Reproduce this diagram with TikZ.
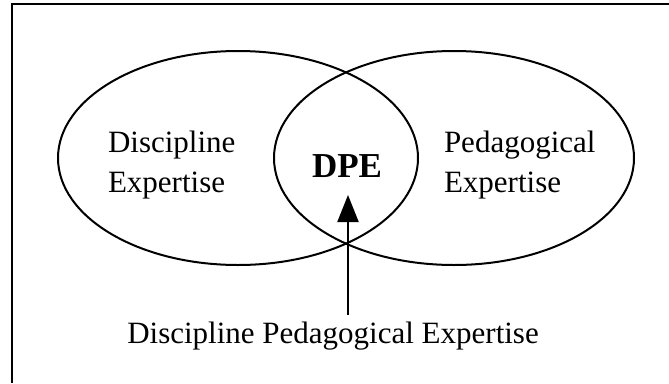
\documentclass[tikz,border=0pt]{standalone}
\usepackage{fontspec}
\setmainfont{Liberation Serif}
\usetikzlibrary{shapes.geometric,arrows.meta,positioning}

\begin{document}
\begin{tikzpicture}[x=1pt, y=-1pt, line width=2pt,
    venn/.style={ellipse, draw, minimum width=360pt, minimum height=214pt},
    label/.style={align=left, font=\fontsize{31}{40}\selectfont, inner sep=0pt}]
        \useasboundingbox (0,0) rectangle (669,383);

        % Frame
        \draw (12,383) -- (12,3.5) -- (669,3.5);

        % Ellipses
        \node[venn] (disc) at (238,158) {};
        \node[venn] (peda) at (454,158) {};

        % Texts
        \node[label, anchor=base west] (disctext) at (107,192) {Discipline\\Expertise};
        \node[label, anchor=base west] (pedatext) at (443,192) {Pedagogical\\Expertise};
        \node[font=\fontsize{35}{40}\selectfont\bfseries, inner sep=0pt, anchor=base] (dpe) at (347,177) {DPE};
        \node[label, anchor=base] (dpetext) at (333,343) {Discipline Pedagogical Expertise};

        % Arrow
        \coordinate (tail) at (348,315);
        \coordinate (tip) at (348,195);
        \draw[-{Triangle[length=27pt, width=21pt]}] (tail) -- (tip);
    \end{tikzpicture}
\end{document}
